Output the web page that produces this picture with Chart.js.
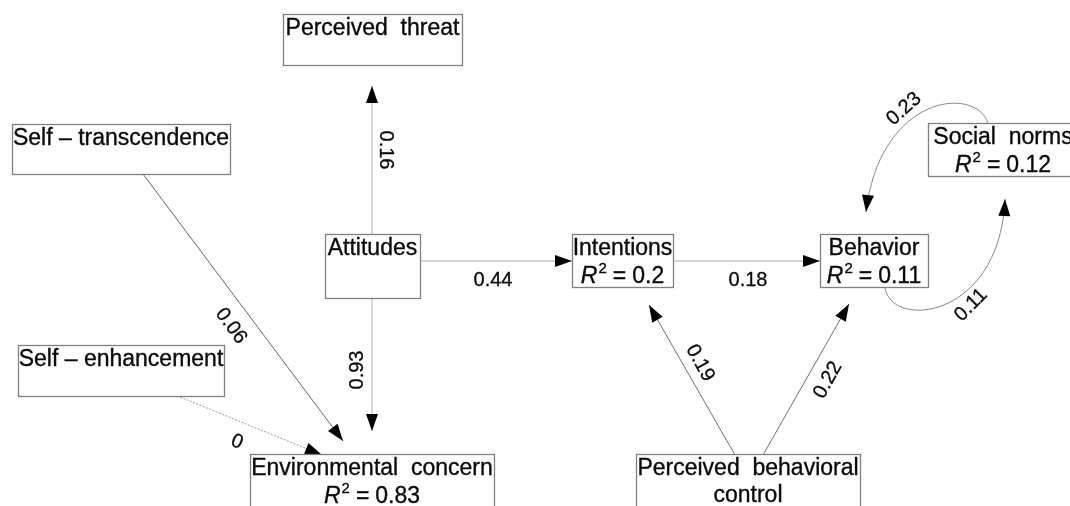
<!DOCTYPE html>
<html>
<head>
<meta charset="utf-8">
<script src="https://cdn.jsdelivr.net/npm/chart.js@4/dist/chart.umd.min.js"></script>
<style>
  html, body { margin: 0; padding: 0; background: #fff; }
  #wrap { width: 1070px; height: 506px; }
</style>
</head>
<body>
<div id="wrap"><canvas id="pathChart"></canvas></div>
<script>
// --- Model values ---
const nodeNames = ['Perceived  threat', 'Self \u2013 transcendence', 'Attitudes', 'Intentions', 'Behavior',
                   'Social  norms', 'Self \u2013 enhancement', 'Environmental  concern', 'Perceived  behavioral\ncontrol'];
const nodeR2 = [null, null, null, 0.2, 0.11, 0.12, null, 0.83, null];

const edgeFrom = [2, 2, 2, 3, 1, 6, 8, 8, 5, 4];
const edgeTo   = [0, 7, 3, 4, 7, 7, 3, 4, 4, 5];
const edgeCoef = [0.16, 0.93, 0.44, 0.18, 0.06, 0, 0.19, 0.22, 0.23, 0.11];

// --- Layout (diagram units = px of the 1070x506 canvas) ---
// box: [left, top, width, height]
const boxLayout = [
    [283, 14, 179, 51],
    [12, 124, 218, 50],
    [325, 234, 95, 64],
    [572, 234, 101, 53],
    [820, 234, 108, 53],
    [928, 123, 150, 53],
    [18, 345, 206, 51],
    [250, 454, 244, 70],
    [636, 454, 224, 70]
];
// edge path: straight [x1,y1,x2,y2] or cubic [x1,y1,c1x,c1y,c2x,c2y,x2,y2]
const edgePath = [
    [372, 234, 372, 86],
    [372, 298, 372, 431],
    [420, 261, 572, 261],
    [673, 261, 820, 261],
    [143, 174, 343, 441],
    [180, 397, 322, 455],
    [735, 455, 649, 305],
    [763, 455, 849, 304],
    [988, 123, 975, 85, 880, 95, 866, 212],
    [885, 287, 890, 330, 1000, 320, 1005, 199]
];
// label: [cx, cy, rotation deg]
const labelLayout = [
    [386, 150, 90],
    [357, 370, -90],
    [493, 280, 0],
    [748, 280, 0],
    [231, 326, 54],
    [237, 442, 22],
    [700, 363, 61],
    [828, 380, -61],
    [904, 109, -42],
    [971, 305, -45]
];
const edgeStyle = ['#b0b0b0', '#b0b0b0', '#b0b0b0', '#b0b0b0', '#666', '#999', '#707070', '#707070', '#888', '#888'];

const FONT = '"Liberation Sans", Arial, sans-serif';
const TEXT = '#0a0a0a';

// text with a hairline stroke so it carries the weight of the original
function heavyText(ctx, s, x, y) {
    ctx.fillText(s, x, y);
    ctx.strokeText(s, x, y);
}

function drawR2(ctx, cx, base, value) {
    const val = String(value);
    ctx.font = 'italic 23px ' + FONT;
    const wR = ctx.measureText('R').width;
    ctx.font = '15px ' + FONT;
    const w2 = ctx.measureText('2').width;
    ctx.font = '23px ' + FONT;
    const wEq = ctx.measureText('=').width;
    const wV = ctx.measureText(val).width;
    const gap = 6;
    let x = cx - (wR + 1 + w2 + gap + wEq + gap + wV) / 2;
    ctx.textAlign = 'left';
    ctx.font = 'italic 23px ' + FONT;
    heavyText(ctx, 'R', x, base);
    x += wR + 1;
    ctx.font = '15px ' + FONT;
    heavyText(ctx, '2', x, base - 10);
    x += w2 + gap;
    ctx.font = '23px ' + FONT;
    heavyText(ctx, '=', x, base);
    x += wEq + gap;
    heavyText(ctx, val, x, base);
}

function arrowHead(ctx, fx, fy, tx, ty) {
    const a = Math.atan2(ty - fy, tx - fx);
    const len = 17, half = 6;
    ctx.save();
    ctx.translate(tx, ty);
    ctx.rotate(a);
    ctx.beginPath();
    ctx.moveTo(0, 0);
    ctx.lineTo(-len, -half);
    ctx.lineTo(-len, half);
    ctx.closePath();
    ctx.fillStyle = '#000';
    ctx.fill();
    ctx.restore();
}

const pathPlugin = {
    id: 'pathDiagram',
    afterDatasetsDraw(chart) {
        const ctx = chart.ctx;
        const xs = chart.scales.x, ys = chart.scales.y;
        const X = v => xs.getPixelForValue(v);
        const Y = v => ys.getPixelForValue(v);
        ctx.save();

        // edges
        edgePath.forEach((p, i) => {
            ctx.strokeStyle = edgeStyle[i];
            ctx.lineWidth = 1;
            ctx.setLineDash(edgeFrom[i] === 6 ? [2, 1.5] : []);
            ctx.beginPath();
            ctx.moveTo(X(p[0]), Y(p[1]));
            let fx, fy, tx, ty;
            if (p.length === 4) {
                ctx.lineTo(X(p[2]), Y(p[3]));
                fx = X(p[0]); fy = Y(p[1]); tx = X(p[2]); ty = Y(p[3]);
            } else {
                ctx.bezierCurveTo(X(p[2]), Y(p[3]), X(p[4]), Y(p[5]), X(p[6]), Y(p[7]));
                fx = X(p[4]); fy = Y(p[5]); tx = X(p[6]); ty = Y(p[7]);
            }
            ctx.stroke();
            ctx.setLineDash([]);
            arrowHead(ctx, fx, fy, tx, ty);
        });

        // boxes
        ctx.textBaseline = 'alphabetic';
        boxLayout.forEach((b, i) => {
            const l = X(b[0]), t = Y(b[1]);
            const w = X(b[0] + b[2]) - l, h = Y(b[1] + b[3]) - t;
            ctx.fillStyle = '#fff';
            ctx.fillRect(l, t, w, h);
            ctx.strokeStyle = '#808080';
            ctx.lineWidth = 1.3;
            ctx.strokeRect(l + 0.5, t + 0.5, w, h);
            const cx = l + w / 2;
            const lines = nodeNames[i].split('\n');
            ctx.fillStyle = TEXT;
            ctx.strokeStyle = TEXT;
            ctx.lineWidth = 0.35;
            ctx.font = '23px ' + FONT;
            ctx.textAlign = 'center';
            heavyText(ctx, lines[0], cx, t + 21);
            if (lines[1]) heavyText(ctx, lines[1], cx, t + 48);
            if (nodeR2[i] !== null) drawR2(ctx, cx, t + 49, nodeR2[i]);
        });

        // coefficient labels
        ctx.font = '20px ' + FONT;
        ctx.textAlign = 'center';
        ctx.textBaseline = 'middle';
        ctx.fillStyle = TEXT;
        ctx.strokeStyle = TEXT;
        ctx.lineWidth = 0.3;
        labelLayout.forEach((lb, i) => {
            ctx.save();
            ctx.translate(X(lb[0]), Y(lb[1]));
            ctx.rotate(lb[2] * Math.PI / 180);
            heavyText(ctx, String(edgeCoef[i]), 0, 0);
            ctx.restore();
        });
        ctx.restore();
    }
};

new Chart(document.getElementById('pathChart'), {
    type: 'scatter',
    data: {
        datasets: [{
            data: boxLayout.map(b => ({ x: b[0] + b[2] / 2, y: b[1] + b[3] / 2 })),
            pointRadius: 0
        }]
    },
    options: {
        responsive: true,
        maintainAspectRatio: false,
        animation: false,
        events: [],
        layout: { padding: 0 },
        plugins: { legend: { display: false }, tooltip: { enabled: false } },
        scales: {
            x: { type: 'linear', min: 0, max: 1070, display: false },
            y: { type: 'linear', min: 0, max: 506, reverse: true, display: false }
        }
    },
    plugins: [pathPlugin]
});
</script>
</body>
</html>
